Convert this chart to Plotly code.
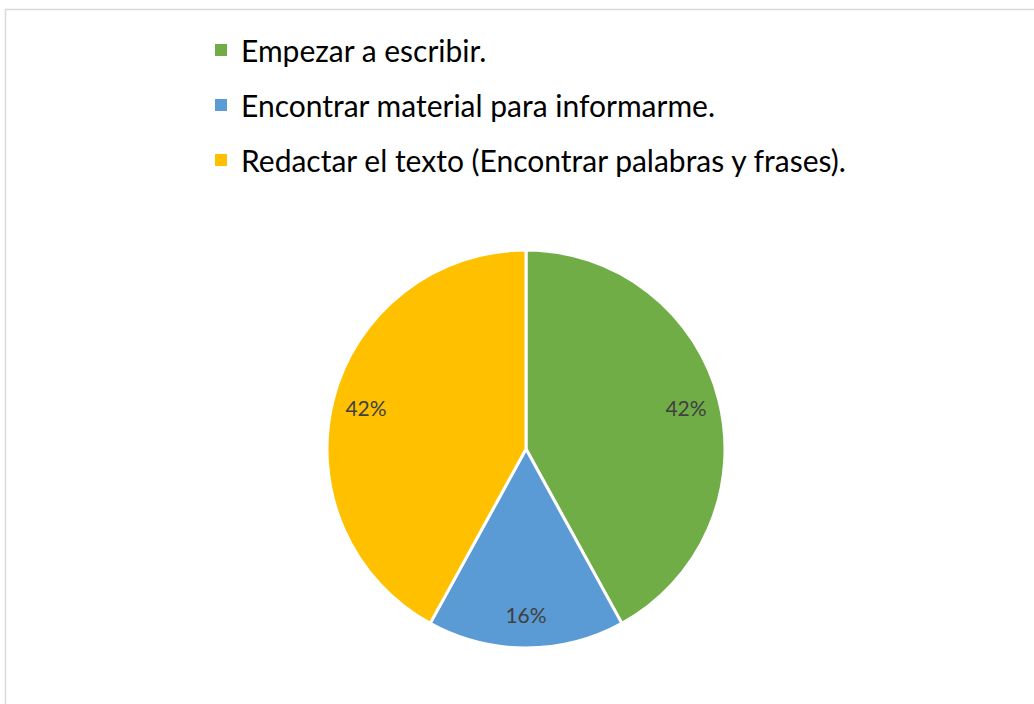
import plotly.graph_objects as go

labels = ["Empezar a escribir.", "Encontrar material para informarme.",
          "Redactar el texto (Encontrar palabras y frases)."]
values = [42, 16, 42]
colors = ["#70AD47", "#5B9BD5", "#FFC000"]

W, H = 1034, 704
cx, cy, r = 526, 449, 199
dom_x = [(cx - r) / W, (cx + r) / W]
dom_y = [1 - (cy + r) / H, 1 - (cy - r) / H]

fig = go.Figure()
fig.add_trace(go.Pie(
    labels=labels, values=values, sort=False, direction="clockwise", rotation=0,
    marker=dict(colors=colors, line=dict(color="white", width=3)),
    textinfo="none", showlegend=False, hoverinfo="label+percent",
    domain=dict(x=dom_x, y=dom_y),
))
# transparent ring carrying the percentage labels near the outer edge
fig.add_trace(go.Pie(
    labels=labels, values=values, sort=False, direction="clockwise", rotation=0,
    hole=0.66,
    marker=dict(colors=["rgba(0,0,0,0)"] * 3, line=dict(width=0)),
    textinfo="percent", textposition="inside", insidetextorientation="horizontal",
    textfont=dict(family="Lato, Carlito, sans-serif", size=21, color="#404040"),
    showlegend=False, hoverinfo="skip",
    domain=dict(x=dom_x, y=dom_y),
))
for lab, col in zip(labels, colors):
    fig.add_trace(go.Scatter(
        x=[None], y=[None], mode="markers", name=lab, legendgroup=lab,
        marker=dict(symbol="square", size=12, color=col),
    ))

fig.update_layout(
    width=W, height=H,
    margin=dict(l=0, r=0, t=0, b=0),
    paper_bgcolor="white", plot_bgcolor="white",
    xaxis=dict(visible=False), yaxis=dict(visible=False),
    showlegend=True,
    legend=dict(x=201 / W, y=1 - 24 / H, xanchor="left", yanchor="top",
                traceorder="grouped", tracegroupgap=13,
                font=dict(family="Lato, Carlito, sans-serif", size=30, color="#000000"),
                bgcolor="rgba(0,0,0,0)"),
    shapes=[dict(type="rect", xref="paper", yref="paper",
                 x0=5.5 / W, x1=1.02, y0=-0.02, y1=1 - 9.5 / H,
                 line=dict(color="#D9D9D9", width=1.5), fillcolor="rgba(0,0,0,0)",
                 layer="below")],
)
fig.write_html("out.html", config={"displayModeBar": False},
               post_script="document.body.style.margin='0px';")
